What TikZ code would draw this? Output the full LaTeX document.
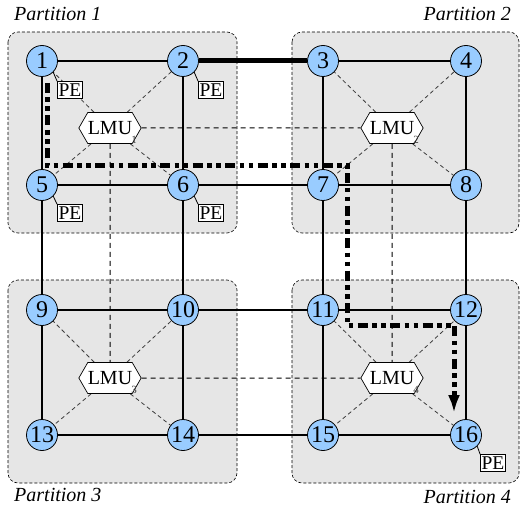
\documentclass[tikz,border=0pt]{standalone}
\usepackage{fontspec}
\setmainfont{Liberation Serif}
\usetikzlibrary{shapes.symbols,arrows.meta,calc}
\definecolor{routerblue}{RGB}{153,204,255}
\definecolor{partgray}{RGB}{230,230,230}
\definecolor{linkgray}{RGB}{60,60,60}
\pgfdeclarelayer{bg}
\pgfdeclarelayer{edges}
\pgfsetlayers{bg,edges,main}

\begin{document}
\begin{tikzpicture}[x=1pt,y=-1pt,
  router/.style={circle,draw,fill=routerblue,minimum size=31pt,inner sep=0pt,
    line width=0.8pt,font=\fontsize{24}{24}\selectfont},
  lmu/.style={signal,signal to=east and west,signal pointer angle=120,draw,
    fill=white,minimum width=62pt,minimum height=31pt,inner sep=0pt,
    line width=0.7pt,font=\fontsize{20}{20}\selectfont},
  lmuidx/.style={font=\fontsize{11}{11}\selectfont,text=linkgray,inner sep=0pt},
  pebox/.style={draw,fill=white,line width=0.7pt,inner xsep=1.2pt,inner ysep=2pt,
    text height=13pt,text depth=0pt,font=\fontsize{19.5}{19.5}\selectfont},
  partbox/.style={draw,fill=partgray,rounded corners=10pt,line width=0.6pt,
    dash pattern=on 3pt off 2pt},
  parttitle/.style={font=\fontsize{20}{20}\selectfont\itshape,inner sep=0pt},
  link/.style={line width=1.3pt},
  biglink/.style={line width=5pt},
  lmulink/.style={line width=1pt,dash pattern=on 5pt off 4pt},
  ctrl/.style={line width=0.8pt,draw=linkgray,dash pattern=on 4pt off 3pt},
  pelink/.style={line width=0.8pt},
  route/.style={line width=5pt,dash pattern=on 10pt off 4.5pt on 4.5pt off 4.5pt on 4.5pt off 4.5pt,
    -{Latex[length=18pt,width=12pt]}}
]
\useasboundingbox (0,0) rectangle (526,513);

% partitions
\begin{pgfonlayer}{bg}
  \path[partbox] (8,32) rectangle (237,233);
  \path[partbox] (292,32) rectangle (519,233);
  \path[partbox] (8,280) rectangle (237,483);
  \path[partbox] (292,280) rectangle (519,483);
\end{pgfonlayer}
\node[parttitle,anchor=west] (t1) at (14,14) {Partition 1};
\node[parttitle,anchor=east] (t2) at (511,14) {Partition 2};
\node[parttitle,anchor=west] (t3) at (14,495) {Partition 3};
\node[parttitle,anchor=east] (t4) at (511,497) {Partition 4};

% routers
\node[router] (n1)  at (42,61)   {1};
\node[router] (n2)  at (183,61)  {2};
\node[router] (n3)  at (323,61)  {3};
\node[router] (n4)  at (466,61)  {4};
\node[router] (n5)  at (42,185)  {5};
\node[router] (n6)  at (183,185) {6};
\node[router] (n7)  at (323,185) {7};
\node[router] (n8)  at (466,185) {8};
\node[router] (n9)  at (42,310)  {9};
\node[router] (n10) at (183,310) {10};
\node[router] (n11) at (323,310) {11};
\node[router] (n12) at (466,310) {12};
\node[router] (n13) at (42,435)  {13};
\node[router] (n14) at (183,435) {14};
\node[router] (n15) at (323,435) {15};
\node[router] (n16) at (466,435) {16};

% local management units
\node[lmu] (m1) at (110,128) {LMU};
\node[lmu] (m2) at (392,128) {LMU};
\node[lmu] (m3) at (110,378) {LMU};
\node[lmu] (m4) at (392,378) {LMU};
\node[lmuidx] (i1) at ($(m1)+(24,12)$) {1};
\node[lmuidx] (i2) at ($(m2)+(24,12)$) {2};
\node[lmuidx] (i3) at ($(m3)+(24,12)$) {3};
\node[lmuidx] (i4) at ($(m4)+(24,12)$) {4};

% processing elements
\node[pebox] (p1)  at (70,90)   {PE};
\node[pebox] (p2)  at (211,90)  {PE};
\node[pebox] (p5)  at (70,213)  {PE};
\node[pebox] (p6)  at (211,213) {PE};
\node[pebox] (p16) at (493,463) {PE};

\begin{pgfonlayer}{edges}
  % mesh links
  \foreach \a/\b in {n1/n2,n3/n4,n5/n6,n6/n7,n7/n8,n9/n10,n10/n11,n11/n12,
      n13/n14,n14/n15,n15/n16,n1/n5,n5/n9,n9/n13,n2/n6,n6/n10,n10/n14,
      n3/n7,n7/n11,n11/n15,n4/n8,n8/n12,n12/n16}
    \draw[link] (\a) -- (\b);
  \draw[biglink] (n2) -- (n3);
  % control links between management units
  \draw[lmulink] (m1) -- (m2);
  \draw[lmulink] (m3) -- (m4);
  \draw[lmulink] (m1) -- (m3);
  \draw[lmulink] (m2) -- (m4);
  % control links from each unit to its routers
  \foreach \m/\a/\b/\c/\d in {m1/n1/n2/n5/n6,m2/n3/n4/n7/n8,m3/n9/n10/n13/n14,m4/n11/n12/n15/n16}
    \foreach \n in {\a,\b,\c,\d}
      \draw[ctrl] (\m) -- (\n);
  % processing element attachments
  \foreach \n/\p in {n1/p1,n2/p2,n5/p5,n6/p6,n16/p16}
    \draw[pelink] (\n.south east) -- (\p.north west);
\end{pgfonlayer}

% routing path
\coordinate (r0) at (47,83);
\coordinate (r1) at (47,165);
\coordinate (r2) at (347,165);
\coordinate (r3) at (347,325);
\coordinate (r4) at (454,325);
\coordinate (r5) at (454,413);
\draw[route] (r0) -- (r1) -- (r2) -- (r3) -- (r4) -- (r5);
\end{tikzpicture}
\end{document}
